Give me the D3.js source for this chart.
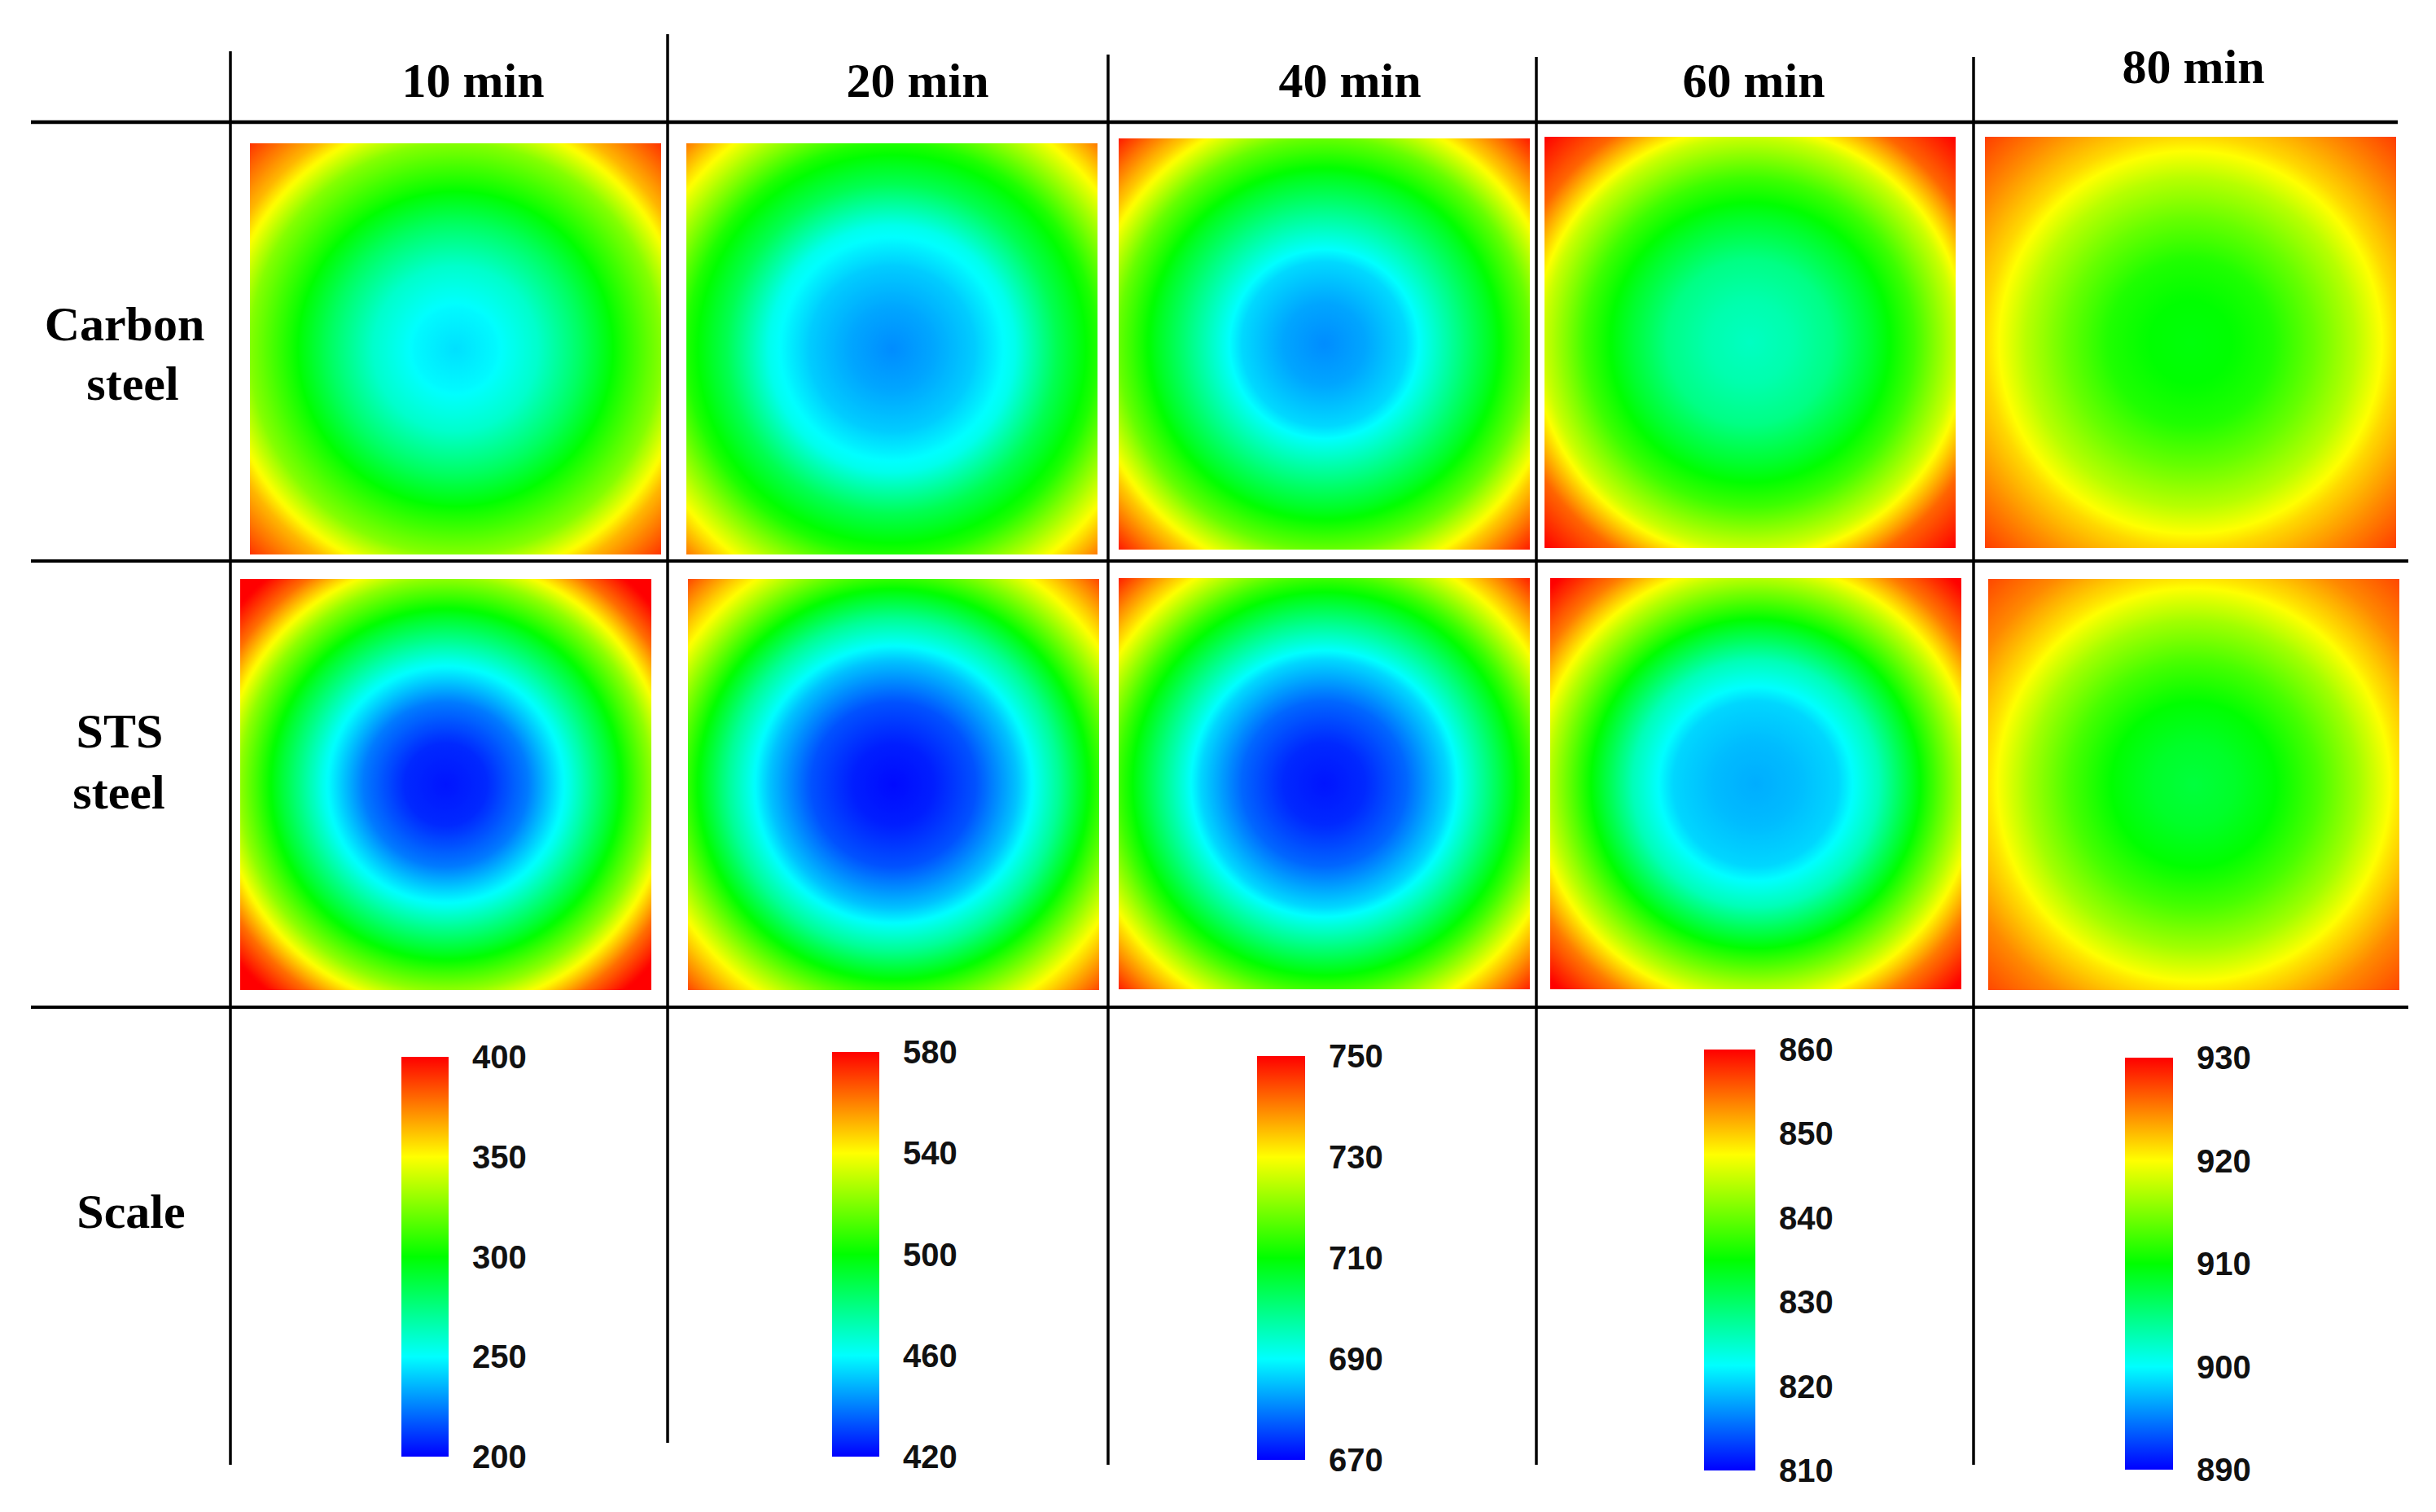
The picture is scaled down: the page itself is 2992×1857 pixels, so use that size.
<!DOCTYPE html>
<html>
<head>
<meta charset="utf-8">
<script src="https://cdn.jsdelivr.net/npm/d3@7"></script>
<style>
  body { margin: 0; background: #fff; }
  svg { display: block; }
</style>
</head>
<body>
<div id="container"><svg></svg></div>
<script>
let width = 2992;
let height = 1857;

// ---- data ----
const times = ["10 min", "20 min", "40 min", "60 min", "80 min"];
const rowNames = [["Carbon", "steel"], ["STS", "steel"], ["Scale"]];
const scaleMin = [200, 420, 670, 810, 890];
const scaleMax = [400, 580, 750, 860, 930];
const scaleTicks = [
    [200, 250, 300, 350, 400],
    [420, 460, 500, 540, 580],
    [670, 690, 710, 730, 750],
    [810, 820, 830, 840, 850, 860],
    [890, 900, 910, 920, 930]
];
// distance from plate centre, in half-widths (1 = edge middle, 1.414 = corner)
const radii = [0, 0.2, 0.4, 0.6, 0.8, 1.0, 1.2, 1.414];
// temperature along that radius, one row per time
const carbonTemp = [
    [244, 249, 260, 280, 304, 326, 364, 390],
    [442, 446, 452, 463, 487, 505, 532, 561],
    [681, 683, 687, 697, 707, 718, 734, 748],
    [825.5, 826.5, 828.5, 833, 838, 845, 855, 860],
    [909.6, 910, 911.2, 914, 917.2, 921.5, 924.6, 927.6]
];
const stsTemp = [
    [204, 208, 224, 254, 290, 328, 378, 415],
    [421.6, 424.8, 432.8, 450.4, 476, 508, 540, 568.8],
    [671.6, 673.2, 678, 686.8, 700.4, 714.8, 731.6, 747.6],
    [818.5, 819.2, 820.5, 826, 835, 844, 854, 861],
    [907.6, 908.4, 910, 912.8, 916.4, 921, 924.6, 927.2]
];

// ---- layout ----
const colLines = [
    {x: 283, y1: 63, y2: 1799},
    {x: 820, y1: 42, y2: 1772},
    {x: 1361, y1: 67, y2: 1799},
    {x: 1887, y1: 70, y2: 1799},
    {x: 2424, y1: 70, y2: 1799}
];
const rowLines = [
    {y: 150, x1: 38, x2: 2945, w: 4.5},
    {y: 689, x1: 38, x2: 2958, w: 4},
    {y: 1237, x1: 38, x2: 2958, w: 4}
];
const headerPos = [[581, 119], [1127, 119], [1658, 119], [2154, 119], [2694, 102]];
const panelBoxes = [
    [[307, 176], [843, 176], [1374, 170], [1897, 168], [2438, 168]],
    [[295, 711], [845, 711], [1374, 710], [1904, 710], [2442, 711]]
];
const panelW = 505, panelH = 505;
const barBoxes = [
    {x: 493, w: 58, y1: 1298, y2: 1789},
    {x: 1022, w: 58, y1: 1292, y2: 1789},
    {x: 1544, w: 59, y1: 1297, y2: 1793},
    {x: 2093, w: 63, y1: 1289, y2: 1806},
    {x: 2610, w: 59, y1: 1299, y2: 1805}
];
const rowLabelPos = [
    [[153, 418], [163, 491]],
    [[147, 918], [146, 993]],
    [[161, 1508]]
];

const jetColors = ["#0000ff", "#00ffff", "#00ff00", "#ffff00", "#ff0000"];

function colorScale(i) {
    let lo = scaleMin[i], hi = scaleMax[i];
    return d3.scaleLinear()
        .domain(d3.range(5).map(k => lo + k * (hi - lo) / 4))
        .range(jetColors)
        .clamp(true);
}

function draw() {
    let svg = d3.select('#container').select('svg')
        .attr('width', width)
        .attr('height', height);
    let defs = svg.append('defs');

    // temperature plates
    let profiles = [carbonTemp, stsTemp];
    profiles.forEach(function (rows, r) {
        rows.forEach(function (prof, c) {
            let [px, py] = panelBoxes[r][c];
            let color = colorScale(c);
            let along = d3.scaleLinear().domain(radii).range(prof).clamp(true);
            let half = panelW / 2;
            let rad = Math.hypot(panelW / 2, panelH / 2);
            let rMax = rad / half;
            let id = 'plate' + r + '_' + c;
            defs.append('radialGradient')
                .attr('id', id)
                .attr('gradientUnits', 'userSpaceOnUse')
                .attr('cx', px + panelW / 2)
                .attr('cy', py + panelH / 2)
                .attr('r', rad)
                .selectAll('stop')
                .data(d3.range(0, 121).map(k => k / 120))
                .join('stop')
                .attr('offset', d => d)
                .attr('stop-color', d => color(along(d * rMax)));
            svg.append('rect')
                .attr('x', px).attr('y', py)
                .attr('width', panelW).attr('height', panelH)
                .attr('fill', 'url(#' + id + ')');
        });
    });

    // colour bars
    barBoxes.forEach(function (b, i) {
        let color = colorScale(i);
        let y = d3.scaleLinear().domain([scaleMin[i], scaleMax[i]]).range([b.y2, b.y1]);
        let id = 'bar' + i;
        let stopsV = d3.range(5).map(k => scaleMin[i] + k * (scaleMax[i] - scaleMin[i]) / 4);
        defs.append('linearGradient')
            .attr('id', id)
            .attr('x1', 0).attr('y1', 1).attr('x2', 0).attr('y2', 0)
            .selectAll('stop')
            .data(stopsV)
            .join('stop')
            .attr('offset', (d, k) => k / 4)
            .attr('stop-color', d => color(d));
        svg.append('rect')
            .attr('x', b.x).attr('y', b.y1)
            .attr('width', b.w).attr('height', b.y2 - b.y1)
            .attr('fill', 'url(#' + id + ')');
        svg.append('g')
            .selectAll('text')
            .data(scaleTicks[i])
            .join('text')
            .attr('x', b.x + b.w + 29)
            .attr('y', d => y(d) + 14)
            .attr('font-family', '"Liberation Sans", Arial, sans-serif')
            .attr('font-weight', 'bold')
            .attr('font-size', 40)
            .attr('fill', '#111')
            .text(d => d);
    });

    // table lines
    svg.append('g').selectAll('line')
        .data(rowLines)
        .join('line')
        .attr('x1', d => d.x1).attr('x2', d => d.x2)
        .attr('y1', d => d.y).attr('y2', d => d.y)
        .attr('stroke', '#000')
        .attr('stroke-width', d => d.w);
    svg.append('g').selectAll('line')
        .data(colLines)
        .join('line')
        .attr('x1', d => d.x).attr('x2', d => d.x)
        .attr('y1', d => d.y1).attr('y2', d => d.y2)
        .attr('stroke', '#000')
        .attr('stroke-width', 3.5);

    // column headers
    svg.append('g').selectAll('text')
        .data(times)
        .join('text')
        .attr('x', (d, i) => headerPos[i][0])
        .attr('y', (d, i) => headerPos[i][1])
        .attr('text-anchor', 'middle')
        .attr('font-family', '"Liberation Serif", "Times New Roman", serif')
        .attr('font-weight', 'bold')
        .attr('font-size', 60)
        .text(d => d);

    // row labels
    rowNames.forEach(function (lines, r) {
        svg.append('g').selectAll('text')
            .data(lines)
            .join('text')
            .attr('x', (d, k) => rowLabelPos[r][k][0])
            .attr('y', (d, k) => rowLabelPos[r][k][1])
            .attr('text-anchor', 'middle')
            .attr('font-family', '"Liberation Serif", "Times New Roman", serif')
            .attr('font-weight', 'bold')
            .attr('font-size', 60)
            .text(d => d);
    });
}

draw();
</script>
</body>
</html>
